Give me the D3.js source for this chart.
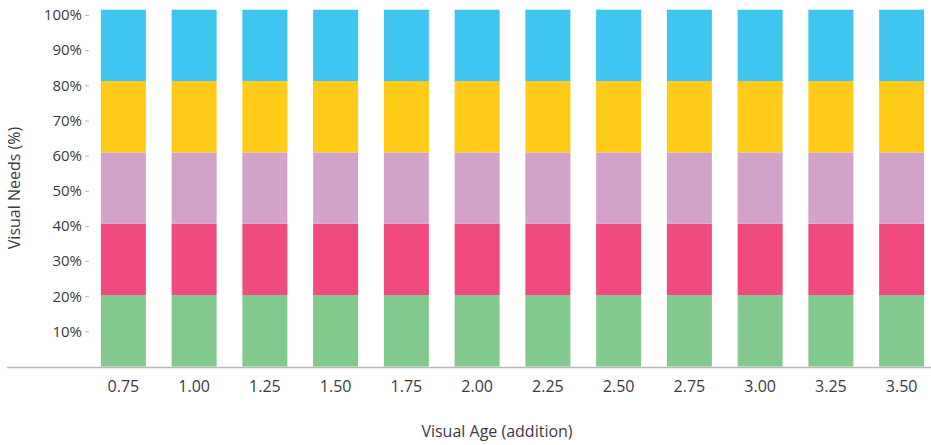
<!DOCTYPE html>
<html>
<head>
<meta charset="utf-8">
<script src="https://cdn.jsdelivr.net/npm/d3@7/dist/d3.min.js"></script>
<style>
  html, body { margin: 0; padding: 0; background: #fff; }
  svg { display: block; }
  text { font-family: "Open Sans", sans-serif; }
</style>
</head>
<body>
<svg id="chart" width="931" height="445"></svg>
<script>
// Visual age (addition) categories along the x axis
const ages = ["0.75", "1.00", "1.25", "1.50", "1.75", "2.00", "2.25", "2.50", "2.75", "3.00", "3.25", "3.50"];

// Share of visual needs (%) per band, stacked bottom to top
const farVision    = [20.3, 20.3, 20.3, 20.3, 20.3, 20.3, 20.3, 20.3, 20.3, 20.3, 20.3, 20.3];
const midVision    = [20.3, 20.3, 20.3, 20.3, 20.3, 20.3, 20.3, 20.3, 20.3, 20.3, 20.3, 20.3];
const screenVision = [20.3, 20.3, 20.3, 20.3, 20.3, 20.3, 20.3, 20.3, 20.3, 20.3, 20.3, 20.3];
const readVision   = [20.3, 20.3, 20.3, 20.3, 20.3, 20.3, 20.3, 20.3, 20.3, 20.3, 20.3, 20.3];
const nearVision   = [20.3, 20.3, 20.3, 20.3, 20.3, 20.3, 20.3, 20.3, 20.3, 20.3, 20.3, 20.3];

const seriesKeys = ["far", "mid", "screen", "read", "near"];
const seriesColors = ["#82c98e", "#f04a7e", "#d2a2cb", "#ffca18", "#3ec5f0"];
const yTicks = [10, 20, 30, 40, 50, 60, 70, 80, 90, 100];

const rows = ages.map((a, i) => ({
  age: a,
  far: farVision[i],
  mid: midVision[i],
  screen: screenVision[i],
  read: readVision[i],
  near: nearVision[i]
}));

const svg = d3.select("#chart");

const x = d3.scaleBand()
  .domain(ages)
  .range([88, 937])
  .paddingInner(0.364)
  .paddingOuter(0.182);

const y = d3.scaleLinear()
  .domain([0, 100])
  .range([366.5, 15]);

const stacked = d3.stack().keys(seriesKeys)(rows);
const color = d3.scaleOrdinal().domain(seriesKeys).range(seriesColors);

// Stacked bars
svg.append("g")
  .selectAll("g")
  .data(stacked)
  .join("g")
  .attr("fill", d => color(d.key))
  .selectAll("rect")
  .data(d => d)
  .join("rect")
  .attr("x", d => x(d.data.age))
  .attr("width", x.bandwidth())
  .attr("y", d => y(d[1]))
  .attr("height", d => y(d[0]) - y(d[1]));

// Y axis: ticks and labels only
const yAxis = svg.append("g")
  .attr("transform", "translate(89,0)")
  .call(d3.axisLeft(y).tickValues(yTicks).tickSize(4).tickPadding(3).tickFormat(d => d + "%"));
yAxis.select(".domain").remove();
yAxis.selectAll(".tick line").attr("stroke", "#b8b8b8");
yAxis.selectAll(".tick text")
  .attr("fill", "#3a3a44")
  .style("font-size", "15px");

// X baseline
svg.append("line")
  .attr("x1", 7).attr("x2", 931)
  .attr("y1", 367.5).attr("y2", 367.5)
  .attr("stroke", "#b8b8b8")
  .attr("stroke-width", 1.5);

// X axis labels
const xAxis = svg.append("g")
  .attr("transform", "translate(0,367.5)")
  .call(d3.axisBottom(x).tickSize(0).tickPadding(13));
xAxis.select(".domain").remove();
xAxis.selectAll(".tick text")
  .attr("fill", "#3a3a44")
  .style("font-size", "16px");

// Axis titles
svg.append("text")
  .attr("x", 497).attr("y", 437)
  .attr("text-anchor", "middle")
  .attr("fill", "#3a3a44")
  .style("font-size", "16px")
  .text("Visual Age (addition)");

svg.append("text")
  .attr("transform", "translate(20,188) rotate(-90)")
  .attr("text-anchor", "middle")
  .attr("fill", "#3a3a44")
  .style("font-size", "16px")
  .text("Visual Needs (%)");
</script>
</body>
</html>
